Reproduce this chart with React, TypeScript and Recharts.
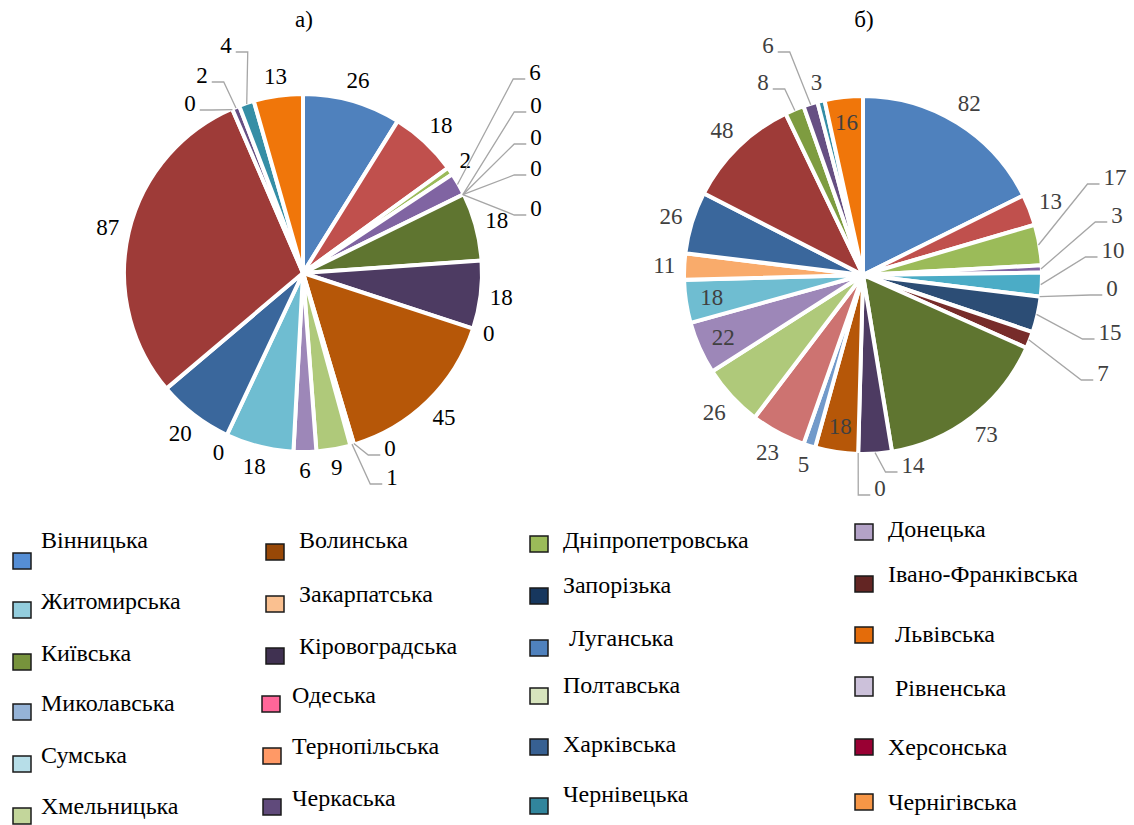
import React from 'react';
import { PieChart, Pie, Cell } from 'recharts';

// регіони в порядку легенди (за абеткою)
const regions = [
  'Вінницька', 'Волинська', 'Дніпропетровська', 'Донецька',
  'Житомирська', 'Закарпатська', 'Запорізька', 'Івано-Франківська',
  'Київська', 'Кіровоградська', 'Луганська', 'Львівська',
  'Миколавська', 'Одеська', 'Полтавська', 'Рівненська',
  'Сумська', 'Тернопільська', 'Харківська', 'Херсонська',
  'Хмельницька', 'Черкаська', 'Чернівецька', 'Чернігівська',
];

const valuesA = [26, 18, 2, 6, 0, 0, 0, 0, 18, 18, 0, 45, 0, 1, 9, 6, 18, 0, 20, 87, 0, 2, 4, 13];
const valuesB = [82, 13, 17, 3, 10, 0, 15, 7, 73, 14, 0, 18, 5, 23, 26, 22, 18, 11, 26, 48, 8, 6, 3, 16];

const sliceColors = [
  '#4F81BD', '#C0504D', '#9BBB59', '#8064A2', '#4BACC6', '#F79646',
  '#2C4D75', '#772C2A', '#5F7530', '#4D3B62', '#276A7C', '#B65708',
  '#729ACA', '#CD7371', '#AFC97A', '#9D87B8', '#6FBDD1', '#F9AB6B',
  '#3A679C', '#9E3B38', '#7E9C40', '#664F83', '#358EA6', '#F0760A',
];

const legendColors = [
  '#558ED5', '#984807', '#9BBB59', '#B3A2C7',
  '#93CDDD', '#FAC090', '#17375E', '#632523',
  '#77933C', '#403151', '#4F81BD', '#E46C0A',
  '#95B3D7', '#FF6699', '#D7E4BD', '#CCC1DA',
  '#B7DEE8', '#FF9966', '#376092', '#990033',
  '#C3D69B', '#604A7B', '#31859C', '#F79646',
];

const dataA = regions.map((name, i) => ({ name, value: valuesA[i] }));
const dataB = regions.map((name, i) => ({ name, value: valuesB[i] }));

// розміщення підписів з виносками (зсув від центру круга)
const leadA: Record<number, [number, number]> = {
  3: [232, -201], 4: [233, -168], 5: [233, -136], 6: [233, -105], 7: [233, -65],
  12: [87, 175], 13: [89, 204], 20: [-113, -170], 21: [-101, -198], 22: [-77, -228],
};
const leadB: Record<number, [number, number]> = {
  2: [252, -98], 3: [254, -60], 4: [250, -25], 5: [249, 13], 6: [247, 57], 7: [240, 98],
  9: [50, 190], 10: [17, 213], 20: [-100, -193], 21: [-95, -230],
};
const insideA: number[] = [];
const insideB = [11, 15, 16, 23];

// легенда: [x квадрата, y квадрата, x тексту, базова лінія тексту]
const legendPos: [number, number, number, number][] = [
  [13, 553, 41, 548], [266, 544, 299, 548], [530, 536, 563, 548], [855, 524, 888, 537],
  [13, 602, 41, 609], [266, 596, 299, 602], [530, 588, 563, 593], [855, 576, 888, 582],
  [13, 654, 41, 661], [266, 648, 299, 654], [530, 640, 569, 646], [855, 627, 895, 642],
  [13, 704, 41, 711], [262, 696, 292, 703], [530, 688, 563, 693], [855, 677, 895, 696],
  [13, 756, 41, 763], [263, 748, 292, 754], [530, 739, 563, 752], [855, 739, 888, 755],
  [13, 808, 41, 814], [263, 799, 292, 806], [530, 798, 563, 802], [855, 794, 888, 810],
];

const FONT = '"Liberation Serif", "Times New Roman", serif';
const RAD = Math.PI / 180;
const R = 179;

const makeLabel = (lead: Record<number, [number, number]>, inside: number[], color: string) =>
  (props: any) => {
    const { cx, cy, midAngle, index, value } = props;
    const txt = String(value);
    const hw = txt.length * 5.75;
    const c = Math.cos(-midAngle * RAD);
    const s = Math.sin(-midAngle * RAD);
    const edge = R - 1;
    let tx: number;
    let ty: number;
    let line: React.ReactNode = null;
    if (lead[index]) {
      const [dx, dy] = lead[index];
      tx = cx + dx;
      ty = cy + dy;
      const side = dx >= 0 ? 1 : -1;
      const x0 = cx + edge * c;
      const y0 = cy + edge * s;
      const ex = tx - side * (hw + 16);
      const ey = ty + 7;
      const fx = tx - side * (hw + 4);
      line = (
        <polyline
          points={`${x0},${y0} ${ex},${ey} ${fx},${ey}`}
          fill="none"
          stroke="#A6A6A6"
          strokeWidth={1.3}
        />
      );
    } else if (inside.includes(index)) {
      tx = cx + 153 * c;
      ty = cy + 153 * s;
    } else {
      const r = edge + 9 + hw * Math.abs(c) + 10 * Math.abs(s);
      tx = cx + r * c;
      ty = cy + r * s;
    }
    return (
      <g key={`lbl-${index}`}>
        {line}
        <text
          x={tx}
          y={ty}
          textAnchor="middle"
          dominantBaseline="central"
          fontFamily={FONT}
          fontSize={23}
          fill={color}
        >
          {txt}
        </text>
      </g>
    );
  };

const App: React.FC = () => {
  return (
    <div style={{ position: 'relative', width: 1134, height: 825, background: '#fff', overflow: 'hidden' }}>
      <style>{'body{margin:0}'}</style>
      <div style={{ position: 'absolute', left: 0, top: 0 }}>
        <PieChart width={1134} height={515} margin={{ top: 0, right: 0, bottom: 0, left: 0 }}>
          <Pie
            data={dataA}
            dataKey="value"
            nameKey="name"
            cx={303}
            cy={273}
            outerRadius={R}
            startAngle={90}
            endAngle={-270}
            stroke="#fff"
            strokeWidth={4}
            isAnimationActive={false}
            labelLine={false}
            label={makeLabel(leadA, insideA, '#000')}
          >
            {dataA.map((d, i) => (
              <Cell key={`a-${i}`} fill={sliceColors[i]} />
            ))}
          </Pie>
          <Pie
            data={dataB}
            dataKey="value"
            nameKey="name"
            cx={863}
            cy={275}
            outerRadius={R}
            startAngle={90}
            endAngle={-270}
            stroke="#fff"
            strokeWidth={4}
            isAnimationActive={false}
            labelLine={false}
            label={makeLabel(leadB, insideB, '#404040')}
          >
            {dataB.map((d, i) => (
              <Cell key={`b-${i}`} fill={sliceColors[i]} />
            ))}
          </Pie>
        </PieChart>
      </div>
      <svg
        width={1134}
        height={825}
        style={{ position: 'absolute', left: 0, top: 0, pointerEvents: 'none' }}
        fontFamily={FONT}
      >
        <text x={304} y={27} textAnchor="middle" fontSize={23} fill="#000">а)</text>
        <text x={864} y={27} textAnchor="middle" fontSize={23} fill="#000">б)</text>
        {regions.map((name, i) => {
          const [sx, sy, tx, ty] = legendPos[i];
          return (
            <g key={name}>
              <rect x={sx} y={sy} width={18} height={i === 15 ? 19 : 16} fill={legendColors[i]} stroke="#1a1a1a" strokeWidth={1.5} />
              <text x={tx} y={ty} fontSize={24} fill="#000">{name}</text>
            </g>
          );
        })}
      </svg>
    </div>
  );
};

export default App;
